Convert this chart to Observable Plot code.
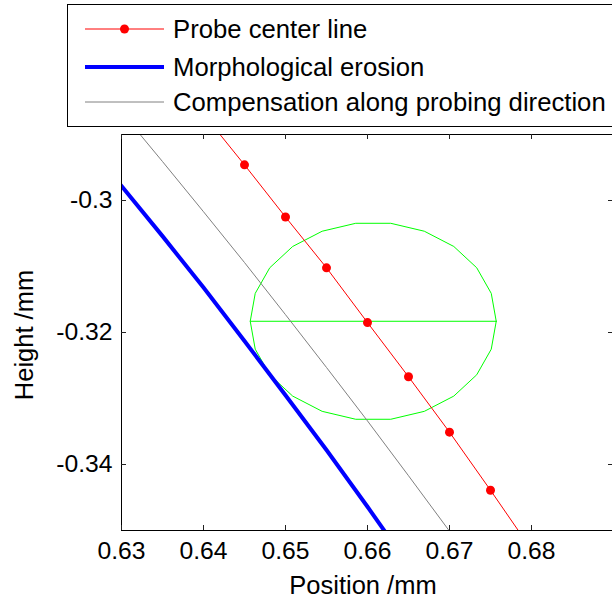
<!DOCTYPE html>
<html><head><meta charset="utf-8">
<script src="https://cdn.jsdelivr.net/npm/d3@7"></script>
<script src="https://cdn.jsdelivr.net/npm/@observablehq/plot@0.6"></script>
<style>
html,body{margin:0;padding:0;background:#fff;}
svg{display:block;}
</style></head><body><div id="chart"></div>
<script>
// ---- data ----
const probeX = [0.640, 0.645, 0.650, 0.655, 0.660, 0.665, 0.670, 0.675, 0.680];
const probeY = [-0.2869, -0.2946, -0.3025, -0.3102, -0.3185, -0.3267, -0.3351, -0.3439, -0.3529];
const erosionX = [0.628, 0.630, 0.635, 0.640, 0.645, 0.650, 0.655, 0.660, 0.663];
const erosionY = [-0.2947, -0.2978, -0.3054, -0.3132, -0.3213, -0.3295, -0.3378, -0.3464, -0.3517];
const compX = [0.630, 0.635, 0.640, 0.645, 0.650, 0.655, 0.660, 0.665, 0.670, 0.672];
const compY = [-0.2866, -0.2941, -0.3017, -0.3094, -0.3173, -0.3253, -0.3334, -0.3417, -0.3501, -0.3535];
const probeCenter = [0.6607, -0.3183];
const probeRadius = 0.015;
const circleSegments = 22;
const xTicks = [0.63, 0.64, 0.65, 0.66, 0.67, 0.68];
const yTicks = [-0.34, -0.32, -0.3];
const xDomain = [0.63, 0.69];
const yDomain = [-0.35, -0.29];
const legendLabels = ["Probe center line", "Morphological erosion", "Compensation along probing direction"];
const xLabel = "Position /mm";
const yLabel = "Height /mm";

// ---- tables ----
const probe = probeX.map((x, i) => ({x, y: probeY[i]}));
const erosion = erosionX.map((x, i) => ({x, y: erosionY[i]}));
const comp = compX.map((x, i) => ({x, y: compY[i]}));
const circle = d3.range(circleSegments + 1).map(i => {
  const a = 2 * Math.PI * i / circleSegments;
  return {x: probeCenter[0] + probeRadius * Math.cos(a), y: probeCenter[1] + probeRadius * Math.sin(a)};
});
const diameter = [
  {x: probeCenter[0] - probeRadius, y: probeCenter[1]},
  {x: probeCenter[0] + probeRadius, y: probeCenter[1]}
];

const FONT = "'Liberation Sans', Arial, Helvetica, sans-serif";
const FS = 24.7;
const FS_TITLE = 25.5;
const FS_LEGEND = 25.7;
const fmt = d => String(d);

const chart = Plot.plot({
  width: 612, height: 599,
  marginLeft: 121, marginTop: 134, marginBottom: 69, marginRight: -1,
  x: {domain: xDomain},
  y: {domain: yDomain},
  style: {fontFamily: FONT, fontSize: FS + "px", background: "white", color: "black", overflow: "visible"},
  marks: [
    Plot.line(circle, {x: "x", y: "y", stroke: "#00ff00", strokeWidth: 1, clip: true}),
    Plot.line(diameter, {x: "x", y: "y", stroke: "#00ff00", strokeWidth: 1, clip: true}),
    Plot.line(comp, {x: "x", y: "y", stroke: "#808080", strokeWidth: 1, clip: true}),
    Plot.line(erosion, {x: "x", y: "y", stroke: "#0000ff", strokeWidth: 4, clip: true}),
    Plot.line(probe, {x: "x", y: "y", stroke: "#ff0000", strokeWidth: 1, clip: true}),
    Plot.dot(probe, {x: "x", y: "y", r: 4.5, fill: "#ff0000", stroke: null, clip: true}),
    Plot.frame({stroke: "black", strokeWidth: 1}),
    Plot.axisX(xTicks, {tickSize: 0, tickPadding: 11, tickFormat: fmt, label: null, fontSize: FS}),
    Plot.axisY(yTicks, {tickSize: 0, tickPadding: 9, tickFormat: fmt, label: null, fontSize: FS})
  ]
});
document.getElementById("chart").appendChild(chart);

// ---- inward ticks on all four sides, axis titles, legend ----
const svg = d3.select(chart);
const sx = chart.scale("x"), sy = chart.scale("y");
const [x0, x1] = sx.range;
const [yb, yt] = sy.range;
const TL = 5;
const g = svg.append("g").attr("stroke", "#222").attr("stroke-width", 1);
xTicks.forEach(v => {
  const px = Math.round(sx.apply(v)) + 0.5;
  g.append("line").attr("x1", px).attr("x2", px).attr("y1", yb).attr("y2", yb - TL);
  g.append("line").attr("x1", px).attr("x2", px).attr("y1", yt).attr("y2", yt + TL);
});
yTicks.forEach(v => {
  const py = Math.round(sy.apply(v)) + 0.5;
  g.append("line").attr("x1", x0).attr("x2", x0 + TL).attr("y1", py).attr("y2", py);
  g.append("line").attr("x1", x1).attr("x2", x1 - TL).attr("y1", py).attr("y2", py);
});

svg.append("text").text(xLabel)
  .attr("x", 363).attr("y", 594)
  .attr("text-anchor", "middle").attr("font-family", FONT).attr("font-size", FS_TITLE).attr("fill", "black");
svg.append("text").text(yLabel)
  .attr("transform", "translate(33,335) rotate(-90)")
  .attr("text-anchor", "middle").attr("font-family", FONT).attr("font-size", FS_TITLE).attr("fill", "black");

const lg = svg.append("g");
lg.append("rect").attr("x", 67.5).attr("y", 4.5).attr("width", 560).attr("height", 122)
  .attr("fill", "white").attr("stroke", "black").attr("stroke-width", 1);
const rows = [29, 67, 102];
const styles = [
  {stroke: "#ff0000", w: 1, dot: true},
  {stroke: "#0000ff", w: 4, dot: false},
  {stroke: "#808080", w: 1, dot: false}
];
legendLabels.forEach((lab, i) => {
  const y = rows[i];
  lg.append("line").attr("x1", 85).attr("x2", 164).attr("y1", y).attr("y2", y)
    .attr("stroke", styles[i].stroke).attr("stroke-width", styles[i].w);
  if (styles[i].dot) lg.append("circle").attr("cx", 124.5).attr("cy", y).attr("r", 4.5).attr("fill", "#ff0000");
  lg.append("text").text(lab).attr("x", 173).attr("y", y + 9.2)
    .attr("text-anchor", "start")
    .attr("font-family", FONT).attr("font-size", FS_LEGEND).attr("fill", "black");
});
</script>
</body></html>
